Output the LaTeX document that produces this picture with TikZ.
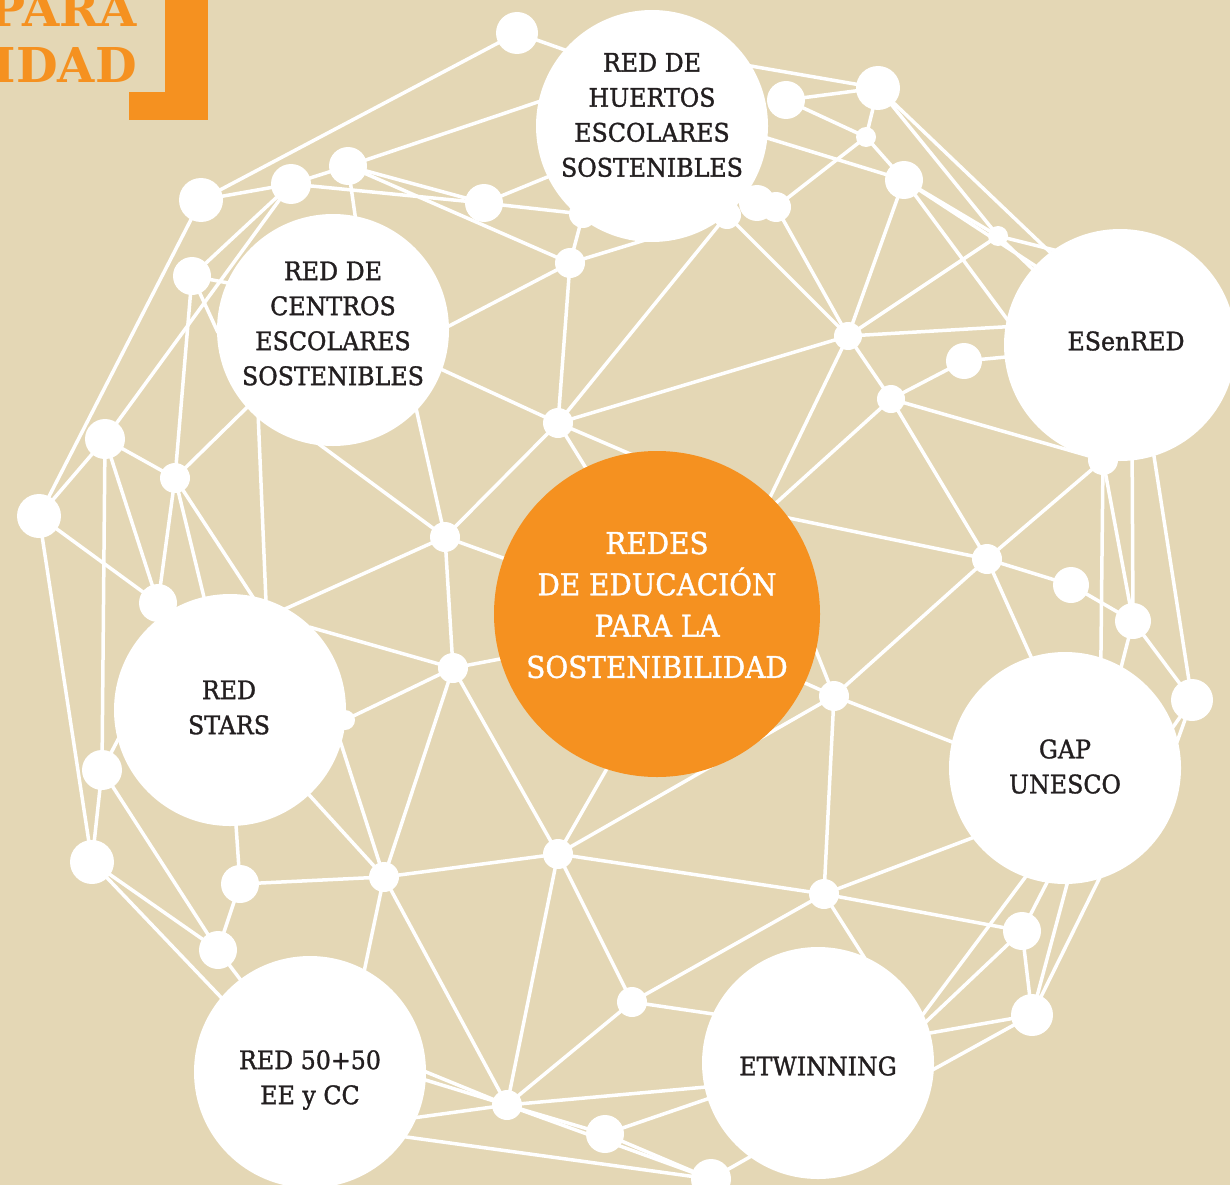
\documentclass[tikz,border=0pt]{standalone}
\usepackage{fontspec}
\setmainfont{DejaVu Serif}
\newfontfamily\lblfont{DejaVu Serif}[FakeStretch=0.93,BoldFont={DejaVu Serif},BoldFeatures={FakeBold=1.3}]
\definecolor{paper}{RGB}{228,215,181}
\definecolor{orng}{RGB}{245,145,32}
\definecolor{ink}{RGB}{35,31,32}
\pgfdeclarelayer{bg}
\pgfdeclarelayer{links}
\pgfsetlayers{bg,links,main}
\tikzset{
  dot/.style={circle,fill=white,inner sep=0pt,minimum size=#1},
  hub/.style={circle,fill=white,inner sep=0pt,minimum size=232pt},
  core/.style={circle,fill=orng,inner sep=0pt,minimum size=326pt},
  link/.style={draw=white,line width=3.5pt,shorten <=-3pt,shorten >=-3pt},
  lbl/.style={align=center,text=ink,font=\lblfont\bfseries\fontsize{25.5}{35}\selectfont,inner sep=0pt},
  corelbl/.style={align=center,text=white,font=\lblfont\bfseries\fontsize{30}{41.3}\selectfont,inner sep=0pt},
  hdr/.style={text=orng,font=\fontsize{48}{48}\selectfont\bfseries,inner sep=0pt,anchor=base east},
}
\begin{document}
\begin{tikzpicture}[x=1pt,y=-1pt]
\useasboundingbox (0,0) rectangle (1230,1185);
\begin{pgfonlayer}{bg}
\fill[paper] (0,0) rectangle (1230,1185);
\end{pgfonlayer}
% header
\fill[orng] (165,-5) rectangle (208,120);
\fill[orng] (129,92) rectangle (208,120);
\node[hdr] (hpara) at (137,27) {PARA};
\node[hdr] (hidad) at (137,83) {IDAD};
% small dots
\foreach \n/\x/\y/\s in {
 1/517/33/42pt, 2/201/200/44pt, 3/291/184/40pt, 4/348/166/38pt, 5/484/203/38pt,
 6/192/276/38pt, 7/570/263/30pt, 8/583/214/28pt, 9/727/215/28pt, 10/757/203/36pt,
 11/776/207/30pt, 12/786/100/38pt, 13/878/88/44pt, 14/866/137/20pt, 15/904/180/38pt,
 16/998/236/20pt, 17/848/336/28pt, 18/964/361/36pt, 19/891/399/28pt, 20/1103/460/30pt,
 21/558/423/30pt, 22/105/439/40pt, 23/175/478/30pt, 24/39/516/44pt, 25/445/537/30pt,
 26/158/603/38pt, 27/987/559/30pt, 28/1071/585/36pt, 29/1133/621/36pt, 30/1192/700/42pt,
 31/453/668/30pt, 32/834/696/30pt, 33/102/770/40pt, 34/92/862/44pt, 35/240/884/38pt,
 36/384/877/30pt, 37/558/854/30pt, 38/824/894/30pt, 39/1022/931/38pt, 40/218/950/38pt,
 41/632/1002/30pt, 42/1032/1015/42pt, 43/507/1105/30pt, 44/605/1134/38pt, 45/711/1179/40pt,
 46/345/720/20pt}
 \node[dot=\s] (d\n) at (\x,\y) {};
% big circles
\node[hub] (H) at (652,126) {};
\node[hub] (C) at (333,330) {};
\node[hub] (E) at (1120,345) {};
\node[hub] (S) at (230,710) {};
\node[hub] (G) at (1065,768) {};
\node[hub] (F) at (310,1072) {};
\node[hub] (W) at (818,1063) {};
\node[core] (O) at (657,614) {};
% labels
\node[lbl] (tH) at (652,115) {RED DE\\HUERTOS\\ESCOLARES\\SOSTENIBLES};
\node[lbl] (tC) at (333,323.5) {RED DE\\CENTROS\\ESCOLARES\\SOSTENIBLES};
\node[lbl] (tE) at (1126,341) {ESenRED};
\node[lbl] (tS) at (229,707.5) {RED\\STARS};
\node[lbl] (tG) at (1065,766.5) {GAP\\UNESCO};
\node[lbl] (tF) at (310,1080) {RED 50+50\\EE y CC};
\node[lbl] (tW) at (818,1066) {ETWINNING};
\node[corelbl] (tO) at (657,605) {REDES\\DE EDUCACIÓN\\PARA LA\\SOSTENIBILIDAD};
% connectors
\begin{pgfonlayer}{links}
\foreach \a/\b in {
 d1/d2, d2/d3, d3/d4, d3/d5, d4/d5, d4/d7, d5/d8, d7/d8, d7/d9, d3/d6, d3/d22, d2/d24,
 d6/d23, d22/d24, d22/d23, d22/d33, d22/d26, d24/d26, d24/d34, d23/d26, d7/d21, d21/d9,
 d21/d17, d21/d25, d9/d17, d11/d17, d11/d14, d12/d13, d12/d14, d13/d14, d14/d15, d13/d16,
 d15/d16, d15/d17, d16/d17, d17/d19, d19/d18, d19/d20, d19/d27, d27/d20, d27/d28, d28/d29,
 d27/d32, d20/d29, d29/d30, d25/d31, d31/d36, d31/d37, d31/d46, d33/d34, d33/d40, d34/d40,
 d35/d40, d35/d36, d36/d37, d36/d43, d37/d43, d37/d41, d37/d32, d37/d38, d41/d43, d41/d38,
 d38/d32, d38/d39, d39/d42, d43/d44, d43/d45, d44/d45,
 d1/H.139, d13/H.31, d4/H.168, d5/H.206, d15/H.-6,
 d4/C.79, d6/C.156, d6/C.180, d23/C.222, d25/C.264, d25/C.316, d7/C.2, d21/C.340,
 S.72/C.230, d23/S.103, d23/S.79,
 d21/O.100, d21/O.116, d25/O.160, d31/O.196, d37/O.252, d17/O.46, d19/O.43, d27/O.36,
 d32/O.335, d32/O.347,
 d25/S.61, d31/S.45, d35/S.273, d36/S.343, d36/S.313, d33/S.195,
 d32/G.167, d27/G.107, d20/G.72, d29/G.61, d30/G.21, d30/G.14,
 d29/E.276, d30/E.287, d18/E.186, d17/E.171, d13/E.127, d15/E.137, d15/E.167, d16/E.139,
 d16/E.125,
 d38/G.217, d38/W.67, d41/W.155, d39/G.261, d42/G.271, d42/G.287, G.250/W.25, d39/W.21,
 d42/W.15, d42/W.357, d43/W.192, d44/W.198, d45/W.234,
 d43/F.0, d43/F.356, d43/F.337, d45/F.326, d36/F.62, d34/F.140, d40/F.127}
 \draw[link] (\a) -- (\b);
\end{pgfonlayer}
\end{tikzpicture}
\end{document}
